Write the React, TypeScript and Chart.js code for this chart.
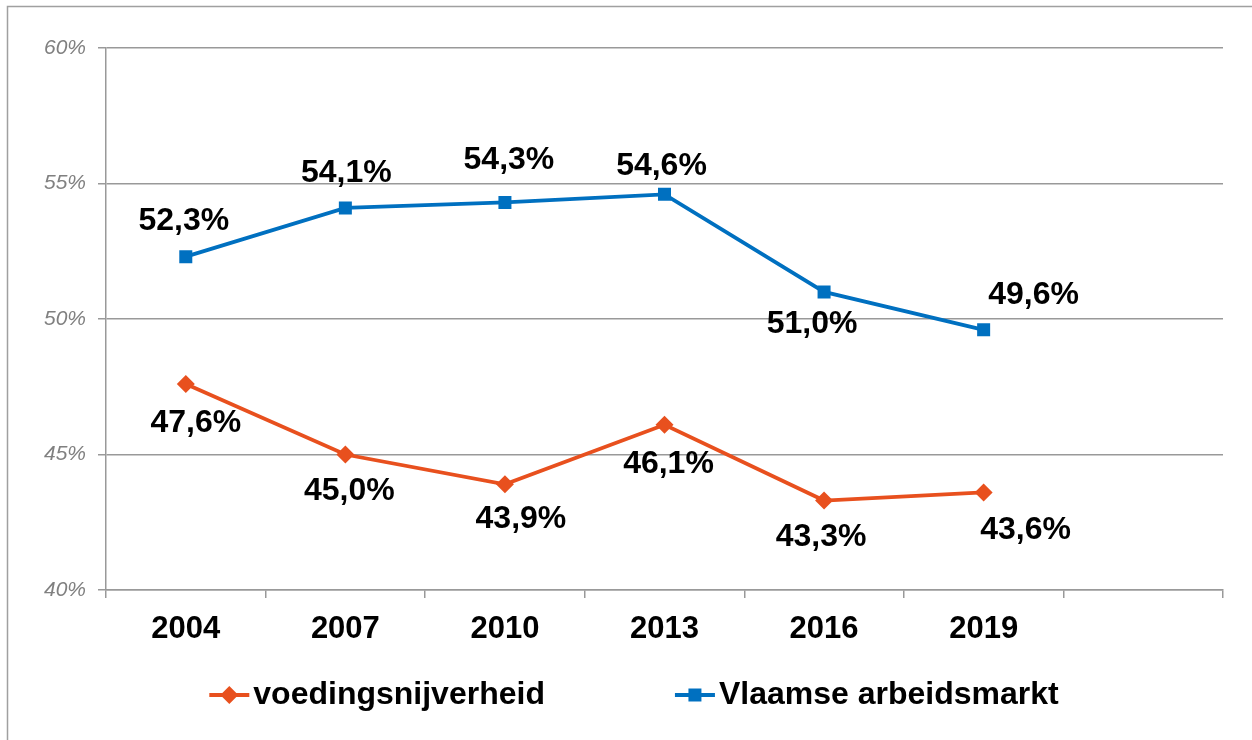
import React, { useEffect, useRef } from "react";
import { Chart, registerables } from "chart.js";

Chart.register(...registerables);

const categories = ["2004", "2007", "2010", "2013", "2016", "2019", ""];
const voedingsnijverheid = [47.6, 45.0, 43.9, 46.1, 43.3, 43.6, null];
const vlaamseArbeidsmarkt = [52.3, 54.1, 54.3, 54.6, 51.0, 49.6, null];
const yTicks = [40, 45, 50, 55, 60];
const seriesNames = ["voedingsnijverheid", "Vlaamse arbeidsmarkt"];

// label placement offsets (dx, dy) relative to each point
const orangeLabelOffsets = [[10, 39], [4, 37], [16, 35], [4, 39], [-3, 37], [42, 38]];
const blueLabelOffsets = [[-2, -35], [1, -35], [4, -42], [-3, -28], [-12, 32], [50, -35]];

const ORANGE = "#E8501E";
const BLUE = "#0070C0";
const GRID = "#999999";
const FONT = "'Liberation Sans', Arial, sans-serif";

const fmt = (v: number) => v.toFixed(1).replace(".", ",") + "%";

const framePlugin = {
  id: "frame",
  beforeDraw(chart: any) {
    const { ctx, width, height } = chart;
    ctx.save();
    ctx.fillStyle = "#ffffff";
    ctx.fillRect(0, 0, width, height);
    ctx.strokeStyle = "#a0a0a0";
    ctx.lineWidth = 1.5;
    ctx.beginPath();
    ctx.moveTo(7.5, height);
    ctx.lineTo(7.5, 6.5);
    ctx.lineTo(width, 6.5);
    ctx.stroke();
    ctx.restore();
  },
};

const dataLabelPlugin = {
  id: "dataLabels",
  afterDatasetsDraw(chart: any) {
    const { ctx } = chart;
    ctx.save();
    ctx.font = `bold 32px ${FONT}`;
    ctx.fillStyle = "#000000";
    ctx.textAlign = "center";
    ctx.textBaseline = "middle";
    chart.data.datasets.forEach((ds: any, di: number) => {
      const meta = chart.getDatasetMeta(di);
      const offs = ds.labelOffsets as number[][];
      meta.data.forEach((pt: any, i: number) => {
        const v = ds.data[i];
        if (v == null) return;
        const [dx, dy] = offs[i];
        ctx.fillText(fmt(v), pt.x + dx, pt.y + dy);
      });
    });
    ctx.restore();
  },
};

const legendPlugin = {
  id: "customLegend",
  afterDraw(chart: any) {
    const { ctx } = chart;
    const y = 695;
    const markerW = 40;
    const gap = 4;
    const itemGap = 130;
    ctx.save();
    ctx.font = `bold 32px ${FONT}`;
    const widths = chart.data.datasets.map((ds: any) => ctx.measureText(ds.label).width);
    const total = widths.reduce((a: number, b: number) => a + b, 0) + 2 * (markerW + gap) + itemGap;
    let x = 634 - total / 2;
    chart.data.datasets.forEach((ds: any, i: number) => {
      ctx.strokeStyle = ds.borderColor;
      ctx.lineWidth = 4;
      ctx.beginPath();
      ctx.moveTo(x, y);
      ctx.lineTo(x + markerW, y);
      ctx.stroke();
      ctx.fillStyle = ds.borderColor;
      const cx = x + markerW / 2;
      ctx.beginPath();
      if (ds.pointStyle === "rectRot") {
        const r = 9;
        ctx.moveTo(cx, y - r);
        ctx.lineTo(cx + r, y);
        ctx.lineTo(cx, y + r);
        ctx.lineTo(cx - r, y);
        ctx.closePath();
      } else {
        ctx.rect(cx - 6.5, y - 6.5, 13, 13);
      }
      ctx.fill();
      ctx.fillStyle = "#000000";
      ctx.textAlign = "left";
      ctx.textBaseline = "middle";
      ctx.fillText(ds.label, x + markerW + gap, y);
      x += markerW + gap + widths[i] + itemGap;
    });
    ctx.restore();
  },
};

export default function App() {
  const ref = useRef<HTMLCanvasElement>(null);

  useEffect(() => {
    document.body.style.margin = "0";
    if (!ref.current) return;
    const chart = new Chart(ref.current, {
      type: "line",
      data: {
        labels: categories,
        datasets: [
          {
            label: seriesNames[0],
            data: voedingsnijverheid,
            borderColor: ORANGE,
            backgroundColor: ORANGE,
            borderWidth: 3.8,
            pointStyle: "rectRot",
            pointRadius: 9,
            pointBorderWidth: 0,
            tension: 0,
            labelOffsets: orangeLabelOffsets,
          } as any,
          {
            label: seriesNames[1],
            data: vlaamseArbeidsmarkt,
            borderColor: BLUE,
            backgroundColor: BLUE,
            borderWidth: 3.8,
            pointStyle: "rect",
            pointRadius: 9.2,
            pointBorderWidth: 0,
            tension: 0,
            labelOffsets: blueLabelOffsets,
          } as any,
        ],
      },
      options: {
        responsive: false,
        animation: false,
        layout: { padding: { left: 0, top: 48, right: 29, bottom: 0 } },
        plugins: {
          legend: { display: false },
          tooltip: { enabled: false },
        },
        scales: {
          x: {
            type: "category",
            offset: true,
            grid: {
              offset: true,
              drawOnChartArea: false,
              drawTicks: true,
              tickLength: 8,
              color: GRID,
              lineWidth: 1.5,
            },
            border: { display: true, color: GRID, width: 1.5 },
            ticks: {
              color: "#000000",
              font: { family: FONT, size: 31, weight: "bold" },
              padding: 13,
              maxRotation: 0,
              autoSkip: false,
            },
            afterFit(scale: any) {
              scale.height = 150;
            },
          },
          y: {
            min: 40,
            max: 60,
            afterBuildTicks(scale: any) {
              scale.ticks = yTicks.map((v) => ({ value: v }));
            },
            grid: {
              color: GRID,
              lineWidth: 1.5,
              tickLength: 8,
            },
            border: { display: true, color: GRID, width: 1.5 },
            ticks: {
              color: "#808080",
              font: { family: FONT, size: 21, style: "italic" },
              padding: 12,
              callback: (v: any) => `${v}%`,
            },
            afterFit(scale: any) {
              scale.width = 106;
            },
          },
        },
      },
      plugins: [framePlugin, dataLabelPlugin, legendPlugin],
    });
    return () => chart.destroy();
  }, []);

  return (
    <div style={{ position: "absolute", left: 0, top: 0 }}>
      <canvas ref={ref} width={1252} height={740} />
    </div>
  );
}
